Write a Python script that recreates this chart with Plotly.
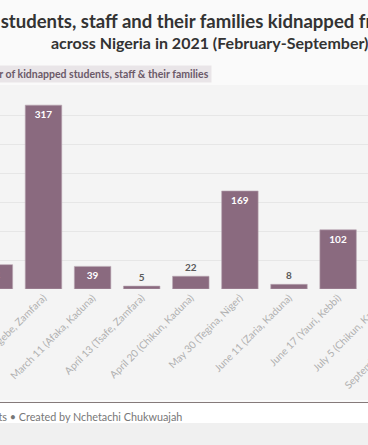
import plotly.graph_objects as go

categories = [
    "February 17 (Kagara, Niger)",
    "February 26 (Jangebe, Zamfara)",
    "March 11 (Afaka, Kaduna)",
    "April 13 (Tsafe, Zamfara)",
    "April 20 (Chikun, Kaduna)",
    "May 30 (Tegina, Niger)",
    "June 11 (Zaria, Kaduna)",
    "June 17 (Yauri, Kebbi)",
    "July 5 (Chikun, Kaduna)",
    "September 1 (Kaya, Zamfara)",
]
kidnapped = [42, 317, 39, 5, 22, 169, 8, 102, 121, 73]
y_ticks = [0, 50, 100, 150, 200, 250, 300, 350]

title_line1 = "Number of students, staff and their families kidnapped from schools"
title_line2 = "across Nigeria in 2021 (February-September)"
legend_label = "Number of kidnapped students, staff & their families"
footer = "Source: Media Reports • Created by Nchetachi Chukwuajah"

W, H = 368, 445
TOP, BASE = 86, 289
PH = BASE - TOP
FONT = "Lato"
BAR = "#8a6a7f"

def px(X):
    return X / W

def py(Y):
    return (BASE - Y) / PH

text_pos = ["inside" if v >= 30 else "outside" for v in kidnapped]

fig = go.Figure()
fig.add_trace(go.Bar(
    x=categories, y=kidnapped,
    marker=dict(color=BAR, line=dict(color="#b9a6b2", width=0.6)),
    text=[str(v) for v in kidnapped],
    textposition=text_pos,
    insidetextanchor="end",
    insidetextfont=dict(family=FONT, size=10, color="white", weight="bold"),
    outsidetextfont=dict(family=FONT, size=10, color="#5a5a5a", weight="bold"),
    textangle=0,
    cliponaxis=True,
    hoverinfo="skip",
    showlegend=False,
))
# invisible helper trace for the secondary label axis
fig.add_trace(go.Scatter(
    x=categories, y=kidnapped, xaxis="x2", mode="markers",
    marker=dict(opacity=0), hoverinfo="skip", showlegend=False,
))

step = 49.1
r0 = 5.6 / step
r1 = (W + 5.6) / step
tickfont = dict(family=FONT, size=10.2, color="#b0b0b0")

fig.update_layout(
    width=W, height=H,
    margin=dict(l=0, r=0, t=TOP, b=H - BASE, pad=0, autoexpand=False),
    paper_bgcolor="#fafafa",
    plot_bgcolor="#f4f4f4",
    bargap=0.257,
    xaxis=dict(
        type="category", categoryorder="array", categoryarray=categories,
        range=[r0, r1], tickangle=-45, tickfont=tickfont, automargin=False,
        showgrid=False, showline=False, ticks="", fixedrange=True,
    ),
    xaxis2=dict(
        type="category", categoryorder="array", categoryarray=categories,
        overlaying="x", anchor="y", side="bottom", automargin=False,
        range=[r0 + 2, r1 + 2], tickvals=categories[8:],
        ticklabelshift=int(round(2 * step)),
        tickangle=-45, tickfont=tickfont,
        showgrid=False, showline=False, ticks="", fixedrange=True,
    ),
    yaxis=dict(
        range=[0, 350], tickvals=y_ticks, showgrid=True, automargin=False,
        gridcolor="#e6e6e6", gridwidth=1, zeroline=False,
        showticklabels=True, tickfont=dict(family=FONT, size=10, color="#999"),
        fixedrange=True,
    ),
    shapes=[
        dict(type="rect", xref="paper", yref="paper", x0=0, x1=1,
             y0=py(400), y1=py(TOP - 1), fillcolor="#f4f4f4",
             line=dict(width=0), layer="below"),
        dict(type="line", xref="paper", yref="paper", x0=0, x1=1,
             y0=py(402.5), y1=py(402.5), line=dict(color="#857a7a", width=1.2)),
        dict(type="rect", xref="paper", yref="paper", x0=0, x1=1,
             y0=py(403.2), y1=py(423), fillcolor="#ffffff",
             line=dict(width=0), layer="below"),
        dict(type="rect", xref="paper", yref="paper", x0=0, x1=1,
             y0=py(H + 2), y1=py(423), fillcolor="#f0f0f0",
             line=dict(width=0), layer="below"),
    ],
    annotations=[
        dict(text=title_line1, xref="paper", yref="paper", x=px(-94), y=py(20.5),
             xanchor="left", yanchor="middle", showarrow=False,
             font=dict(family=FONT, size=18.55, color="#333333", weight="bold")),
        dict(text=title_line2, xref="paper", yref="paper", x=px(49), y=py(43),
             xanchor="left", yanchor="middle", showarrow=False,
             font=dict(family=FONT, size=16, color="#333333", weight="bold")),
        dict(text=legend_label, xref="paper", yref="paper", x=px(212), y=py(73.5),
             xanchor="right", yanchor="middle", showarrow=False,
             bgcolor="#e9e5e8", borderpad=2,
             font=dict(family=FONT, size=10.5, color="#6b5a68", weight="bold")),
        dict(text=footer, xref="paper", yref="paper", x=px(184), y=py(416),
             xanchor="right", yanchor="middle", showarrow=False,
             font=dict(family=FONT, size=10.8, color="#777777")),
    ],
)

fig.write_html(
    "out.html",
    config={"displayModeBar": False, "staticPlot": True},
    post_script="document.body.style.margin='0';document.body.style.overflow='hidden';",
)
